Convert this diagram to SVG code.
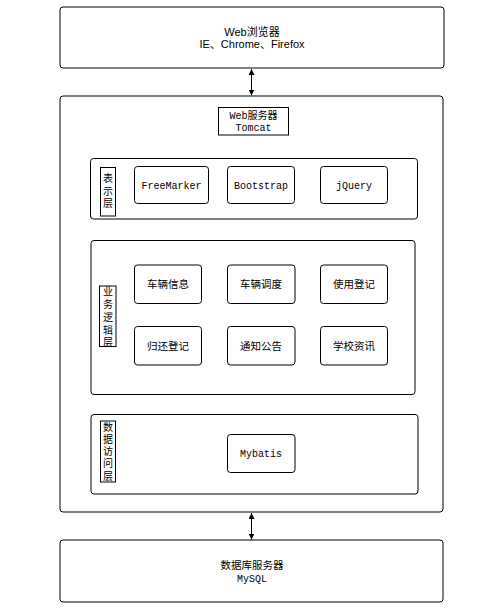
<svg xmlns="http://www.w3.org/2000/svg" width="497" height="614" viewBox="0 0 497 614">
<defs>
<marker id="ah" viewBox="0 0 10 10" refX="10" refY="5" markerWidth="6" markerHeight="6" orient="auto-start-reverse" markerUnits="userSpaceOnUse">
<path d="M0,0 L10,5 L0,10 z" fill="#000"/>
</marker>
<style>
.box{fill:#fff;stroke:#000;stroke-width:1}
.t{font-family:"Liberation Sans","Noto Sans CJK SC",sans-serif;font-size:11px;text-anchor:middle;fill:#000}
.m{font-family:"Liberation Mono","Noto Sans CJK SC",monospace;font-size:10px;text-anchor:middle;fill:#000}
.c{font-family:"Noto Sans CJK SC",sans-serif;font-size:10.5px;text-anchor:middle;fill:#000}
.v{font-family:"Noto Sans CJK SC",sans-serif;font-size:10px;text-anchor:middle;fill:#000;writing-mode:vertical-rl;letter-spacing:2.5px}
.lab{fill:#fff;stroke:#000;stroke-width:1}
.conn{stroke:#000;stroke-width:1;fill:none}
</style>
</defs>
<rect width="497" height="614" fill="#fff"/>
<g id="browser">
<rect class="box" x="60" y="7" width="384" height="61" rx="3"/>
<text class="t" x="252" y="36">Web浏览器</text>
<text class="t" x="252" y="48">IE、Chrome、Firefox</text>
</g>
<g id="webserver">
<rect class="box" x="60" y="96" width="383" height="416" rx="3"/>
<rect class="lab" x="218.5" y="107.5" width="70" height="27.5"/>
<text class="m" x="253.5" y="119">Web服务器</text>
<text class="m" x="253.5" y="131">Tomcat</text>
</g>
<g id="presentation">
<rect class="box" x="90.5" y="158.5" width="327" height="60.5" rx="3"/>
<rect class="lab" x="100.5" y="167.5" width="15" height="48.5"/>
<text class="v" x="108" y="192">表示层</text>
</g>
<g id="freemarker"><rect class="box" x="134.5" y="166.5" width="74" height="37" rx="3"/><text class="m" x="171.5" y="189">FreeMarker</text></g>
<g id="bootstrap"><rect class="box" x="227.5" y="166.5" width="67" height="37" rx="3"/><text class="m" x="261" y="189">Bootstrap</text></g>
<g id="jquery"><rect class="box" x="320.5" y="166.5" width="67" height="37" rx="3"/><text class="m" x="354" y="189">jQuery</text></g>
<g id="business">
<rect class="box" x="91" y="240.5" width="324" height="154" rx="3"/>
<rect class="lab" x="99.5" y="286" width="16.5" height="60.5"/>
<text class="v" x="108" y="318.5" style="letter-spacing:2.8px">业务逻辑层</text>
</g>
<g id="n1"><rect class="box" x="134.5" y="265" width="67" height="38.5" rx="3"/><text class="c" x="168" y="288">车辆信息</text></g>
<g id="n2"><rect class="box" x="227.5" y="265" width="67.5" height="38.5" rx="3"/><text class="c" x="261" y="288">车辆调度</text></g>
<g id="n3"><rect class="box" x="320.5" y="265" width="67" height="38.5" rx="3"/><text class="c" x="354" y="288">使用登记</text></g>
<g id="n4"><rect class="box" x="134.5" y="326.5" width="67" height="38.5" rx="3"/><text class="c" x="168" y="350">归还登记</text></g>
<g id="n5"><rect class="box" x="227.5" y="326.5" width="67.5" height="38.5" rx="3"/><text class="c" x="261" y="350">通知公告</text></g>
<g id="n6"><rect class="box" x="320.5" y="326.5" width="67" height="38.5" rx="3"/><text class="c" x="354" y="350">学校资讯</text></g>
<g id="dataaccess">
<rect class="box" x="91" y="414.5" width="327" height="79.5" rx="3"/>
<rect class="lab" x="100.5" y="421" width="15" height="61"/>
<text class="v" x="108" y="452.5" style="letter-spacing:2.3px">数据访问层</text>
</g>
<g id="mybatis"><rect class="box" x="227.5" y="434.5" width="67.5" height="38" rx="3"/><text class="m" x="261" y="457">Mybatis</text></g>
<g id="db">
<rect class="box" x="60" y="540" width="383" height="62" rx="3"/>
<text class="c" x="252" y="569">数据库服务器</text>
<text class="m" x="252" y="582">MySQL</text>
</g>
<g id="connectors">
<line class="conn" x1="251.5" y1="69" x2="251.5" y2="95.5" marker-start="url(#ah)" marker-end="url(#ah)"/>
<line class="conn" x1="251.5" y1="513" x2="251.5" y2="539.5" marker-start="url(#ah)" marker-end="url(#ah)"/>
</g>
</svg>
